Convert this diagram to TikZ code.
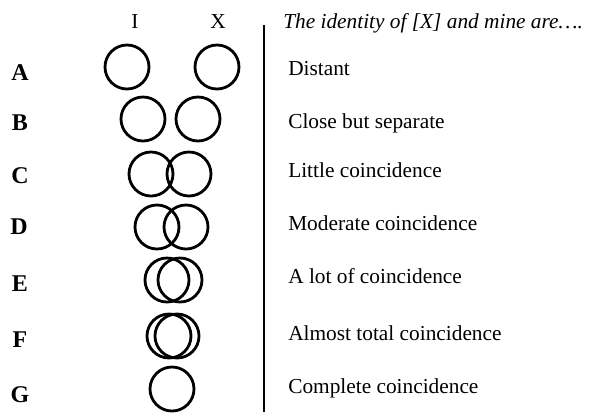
\documentclass[tikz,border=0pt]{standalone}
\usepackage{fontspec}
\setmainfont{Liberation Serif}
\tikzset{
  ring/.style={circle,draw,line width=2.1pt,minimum size=33pt,inner sep=0pt},
  rowlab/.style={anchor=base,inner sep=0pt,font=\fontsize{18}{20}\selectfont\bfseries},
  degree/.style={anchor=base west,inner sep=0pt,font=\fontsize{16}{19}\selectfont},
}
\begin{document}
\begin{tikzpicture}[x=0.75pt,y=0.75pt,yscale=-1,xscale=1]
	\useasboundingbox (0,0) rectangle (595,412);

	% Text Node
	\node [degree,anchor=base] (headI) at (135,28) {I};
	% Text Node
	\node [degree,anchor=base] (headX) at (218,28) {X};
	% Text Node
	\node [degree,font=\fontsize{16}{19}\selectfont\itshape] (headq) at (283,28) {The identity of [X] and mine are….};

	%Straight Lines
	\coordinate (divtop) at (264,25);
	\coordinate (divbot) at (264,412);
	\draw [line width=1.5pt] (divtop) -- (divbot);

	%Row A
	\node [rowlab] (labA) at (20,80) {A};
	\node [ring] (A-I) at (127,67) {};
	\node [ring] (A-X) at (217,67) {};
	\node [degree] (txtA) at (288,75) {Distant};
	%Row B
	\node [rowlab] (labB) at (20,130) {B};
	\node [ring] (B-I) at (143,119) {};
	\node [ring] (B-X) at (198,119) {};
	\node [degree] (txtB) at (288,128) {Close but separate};
	%Row C
	\node [rowlab] (labC) at (20,183) {C};
	\node [ring] (C-I) at (151,174) {};
	\node [ring] (C-X) at (189,174) {};
	\node [degree] (txtC) at (288,177) {Little coincidence};
	%Row D
	\node [rowlab] (labD) at (19,234) {D};
	\node [ring] (D-I) at (157,227) {};
	\node [ring] (D-X) at (186,227) {};
	\node [degree] (txtD) at (288,230) {Moderate coincidence};
	%Row E
	\node [rowlab] (labE) at (20,291) {E};
	\node [ring] (E-I) at (167,280) {};
	\node [ring] (E-X) at (180,280) {};
	\node [degree] (txtE) at (288,283) {A lot of coincidence};
	%Row F
	\node [rowlab] (labF) at (20,347) {F};
	\node [ring] (F-I) at (169,336) {};
	\node [ring] (F-X) at (177,336) {};
	\node [degree] (txtF) at (288,340) {Almost total coincidence};
	%Row G
	\node [rowlab] (labG) at (20,402) {G};
	\node [ring] (G-IX) at (172,389) {};
	\node [degree] (txtG) at (288,393) {Complete coincidence};

\end{tikzpicture}
\end{document}
